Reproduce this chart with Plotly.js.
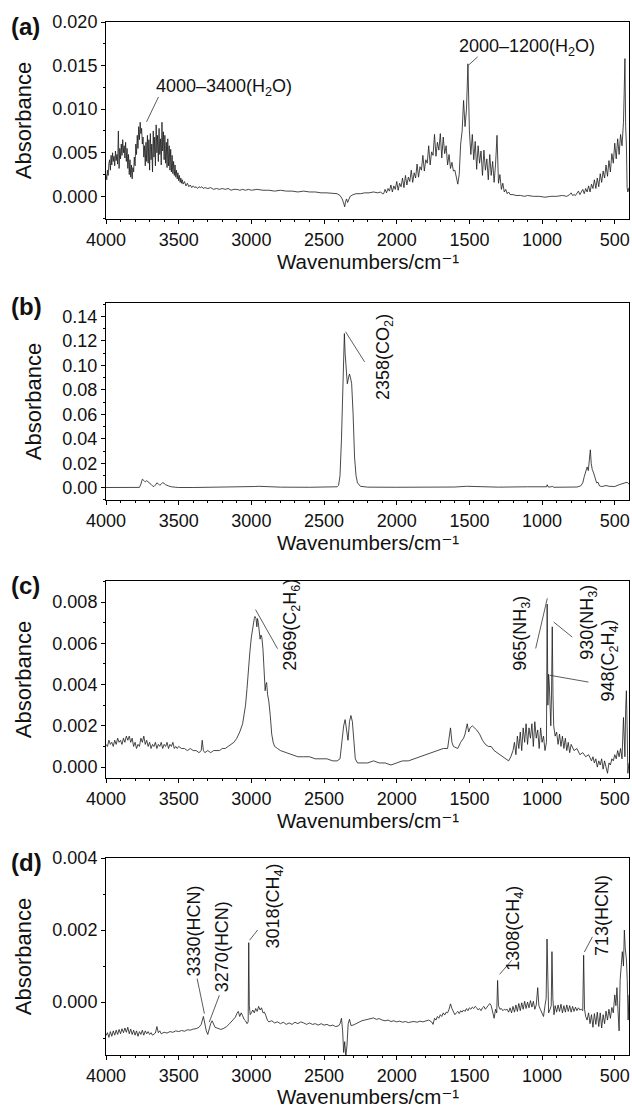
<!DOCTYPE html>
<html><head><meta charset="utf-8">
<script src="https://cdn.plot.ly/plotly-3.0.1.min.js"></script>
<style>html,body{margin:0;padding:0;background:#fff}#chart{width:632px;height:1108px}</style>
</head><body><div id="chart"></div>
<script>
const xTicks = [4000, 3500, 3000, 2500, 2000, 1500, 1000, 500];
const panelLetters = ['(a)', '(b)', '(c)', '(d)'];
const xTitle = 'Wavenumbers/cm⁻¹';
const yTitle = 'Absorbance';

const specA = [
[4000,0.0025],[3995,0.0019],[3990,0.0030],[3985,0.0024],[3980,0.0038],[3975,0.0042],[3970,0.0030],[3965,0.0047],[3960,0.0036],[3955,0.0050],[3950,0.0040],[3945,0.0046],[3940,0.0035],[3935,0.0052],[3930,0.0041],[3925,0.0048],[3920,0.0037],[3915,0.0075],[3910,0.0032],[3905,0.0055],[3900,0.0043],[3895,0.0060],[3890,0.0047],[3885,0.0065],[3880,0.0050],[3875,0.0058],[3870,0.0044],[3865,0.0062],[3860,0.0040],[3855,0.0055],[3850,0.0032],[3845,0.0048],[3840,0.0025],[3835,0.0042],[3830,0.0022],[3825,0.0036],[3820,0.0020],[3815,0.0033],[3810,0.0028],[3805,0.0045],[3800,0.0035],[3795,0.0060],[3790,0.0048],[3785,0.0070],[3780,0.0055],[3775,0.0080],[3770,0.0065],[3765,0.0085],[3760,0.0072],[3755,0.0078],[3750,0.0060],[3745,0.0068],[3740,0.0045],[3735,0.0058],[3730,0.0035],[3725,0.0062],[3720,0.0040],[3715,0.0070],[3710,0.0038],[3705,0.0065],[3700,0.0030],[3695,0.0072],[3690,0.0042],[3685,0.0060],[3680,0.0028],[3675,0.0075],[3670,0.0045],[3665,0.0068],[3660,0.0035],[3655,0.0082],[3650,0.0050],[3645,0.0070],[3640,0.0040],[3635,0.0078],[3630,0.0048],[3625,0.0066],[3620,0.0036],[3615,0.0085],[3610,0.0052],[3605,0.0074],[3600,0.0042],[3595,0.0070],[3590,0.0038],[3585,0.0062],[3580,0.0033],[3575,0.0066],[3570,0.0035],[3565,0.0058],[3560,0.0030],[3555,0.0054],[3550,0.0028],[3545,0.0047],[3540,0.0026],[3535,0.0040],[3530,0.0024],[3525,0.0036],[3520,0.0022],[3515,0.0030],[3510,0.0020],[3505,0.0027],[3500,0.0018],[3495,0.0024],[3490,0.0016],[3485,0.0021],[3480,0.0015],[3475,0.0019],[3470,0.0014],[3460,0.0017],[3450,0.0012],[3440,0.0015],[3430,0.0011],[3420,0.0013],[3410,0.0010],[3400,0.0012],[3390,0.0010],[3380,0.0011],[3370,0.0009],[3360,0.0011],[3350,0.0010],[3340,0.0011],[3330,0.0009],[3320,0.0010],[3300,0.0009],[3280,0.0010],[3260,0.0008],[3240,0.0009],[3220,0.0008],[3200,0.0009],[3180,0.0008],[3160,0.0009],[3140,0.0007],[3120,0.0008],[3100,0.0008],[3080,0.0007],[3060,0.0008],[3040,0.0007],[3020,0.0008],[3000,0.0007],[2960,0.0008],[2920,0.0007],[2880,0.0007],[2840,0.0006],[2800,0.0007],[2760,0.0006],[2720,0.0006],[2680,0.0005],[2640,0.0006],[2600,0.0005],[2560,0.0005],[2520,0.0004],[2480,0.0004],[2440,0.0003],[2410,0.0003],[2390,0.0001],[2375,-0.0003],[2365,-0.0008],[2358,-0.0012],[2352,-0.0006],[2345,-0.0003],[2338,-0.0007],[2330,-0.0003],[2320,0.0000],[2300,0.0002],[2280,0.0003],[2250,0.0003],[2220,0.0004],[2190,0.0004],[2160,0.0005],[2130,0.0004],[2110,0.0005],[2100,0.0003],
[2090,0.0003],[2080,0.0008],[2070,0.0004],[2060,0.0009],[2050,0.0006],[2040,0.0013],[2030,0.0005],[2020,0.0012],[2010,0.0008],[2000,0.0017],[1990,0.0007],[1980,0.0015],[1970,0.0011],[1960,0.0021],[1950,0.0010],[1940,0.0024],[1930,0.0013],[1920,0.0022],[1910,0.0017],[1900,0.0030],[1890,0.0016],[1880,0.0027],[1870,0.0021],[1860,0.0037],[1850,0.0022],[1840,0.0034],[1830,0.0030],[1820,0.0047],[1810,0.0029],[1800,0.0042],[1790,0.0038],[1780,0.0058],[1770,0.0036],[1760,0.0051],[1750,0.0047],[1740,0.0071],[1730,0.0046],[1720,0.0062],[1710,0.0053],[1700,0.0072],[1690,0.0044],[1680,0.0068],[1670,0.0049],[1660,0.0058],[1650,0.0036],[1640,0.0048],[1630,0.0032],[1620,0.0039],[1610,0.0029],[1600,0.0030],[1590,0.0021],[1580,0.0014],[1570,0.0025],[1560,0.0060],[1550,0.0075],[1540,0.0110],[1530,0.0080],[1520,0.0100],[1510,0.0152],[1505,0.0090],[1500,0.0075],[1490,0.0048],[1480,0.0071],[1470,0.0042],[1460,0.0063],[1450,0.0031],[1440,0.0058],[1430,0.0038],[1420,0.0052],[1410,0.0024],[1400,0.0053],[1390,0.0030],[1380,0.0043],[1370,0.0019],[1360,0.0048],[1350,0.0024],[1340,0.0040],[1330,0.0016],[1320,0.0037],[1310,0.0070],[1300,0.0015],[1290,0.0025],[1280,0.0008],[1270,0.0015],[1260,0.0005],[1250,0.0008],[1240,0.0003],[1230,0.0005],[1220,0.0002],[1200,0.0002],[1180,0.0001],[1150,0.0001],[1120,0.0000],[1100,0.0001],[1060,0.0000],[1020,0.0000],[980,-0.0001],[940,0.0000],[900,0.0000],[860,0.0001],[830,0.0000],[810,0.0002],[800,0.0004],[790,0.0001],[780,0.0002],[770,0.0001],[760,0.0004],[750,0.0006],[740,0.0002],[730,0.0005],[720,0.0008],[710,0.0003],[700,0.0009],[690,0.0005],[680,0.0012],[670,0.0005],[660,0.0014],[650,0.0009],[640,0.0019],[630,0.0009],[620,0.0021],[610,0.0011],[600,0.0026],[590,0.0016],[580,0.0029],[570,0.0021],[560,0.0036],[550,0.0023],[540,0.0041],[530,0.0028],[520,0.0049],[510,0.0038],[500,0.0061],[490,0.0043],[480,0.0066],[470,0.0048],[460,0.0071],[450,0.0058],[440,0.0085],[435,0.0120],[430,0.0158],[425,0.0080],[420,0.0060],[415,0.0010],[410,0.0005],[402,0.0010]
];

const specB = [
[4000,0.0002],[3900,0.0002],[3800,0.0002],[3770,0.0003],[3760,0.0030],[3750,0.0070],[3740,0.0060],[3730,0.0048],[3720,0.0058],[3710,0.0050],[3700,0.0035],[3690,0.0028],[3680,0.0015],[3670,0.0010],[3660,0.0022],[3650,0.0040],[3640,0.0032],[3630,0.0020],[3620,0.0030],[3610,0.0042],[3600,0.0035],[3590,0.0025],[3570,0.0015],[3550,0.0008],[3520,0.0004],[3500,0.0002],[3400,0.0002],[3200,0.0003],[3050,0.0006],[2980,0.0010],[2950,0.0012],[2900,0.0009],[2800,0.0005],[2600,0.0004],[2450,0.0004],[2410,0.0008],[2400,0.0020],[2390,0.0100],[2380,0.0400],[2370,0.0900],[2360,0.1260],[2355,0.1100],[2350,0.1000],[2345,0.0980],[2340,0.0850],[2335,0.0880],[2325,0.0930],[2318,0.0900],[2310,0.0850],[2300,0.0600],[2290,0.0250],[2280,0.0100],[2270,0.0040],[2250,0.0012],[2200,0.0005],[2000,0.0004],[1700,0.0005],[1600,0.0006],[1520,0.0012],[1450,0.0008],[1300,0.0005],[1100,0.0008],[1000,0.0006],[970,0.0008],[965,0.0025],[958,0.0006],[935,0.0008],[930,0.0015],[922,0.0004],[850,0.0004],[760,0.0006],[735,0.0015],[720,0.0040],[710,0.0090],[700,0.0140],[690,0.0170],[682,0.0140],[676,0.0200],[668,0.0310],[662,0.0200],[655,0.0150],[645,0.0120],[635,0.0070],[625,0.0040],[615,0.0045],[605,0.0015],[590,0.0010],[560,0.0018],[540,0.0012],[500,0.0010],[470,0.0025],[450,0.0030],[430,0.0040],[415,0.0045],[402,0.0030]
];

const specC = [
[4000,0.0011],[3990,0.0010],[3980,0.0013],[3970,0.0011],[3960,0.0012],[3950,0.0010],[3940,0.0013],[3930,0.0011],[3920,0.0014],[3910,0.0012],[3900,0.0013],[3890,0.0011],[3880,0.0014],[3870,0.0012],[3860,0.0015],[3850,0.0013],[3840,0.0015],[3830,0.0012],[3820,0.0014],[3810,0.0010],[3800,0.0012],[3790,0.0009],[3780,0.0011],[3770,0.0010],[3760,0.0014],[3750,0.0012],[3740,0.0015],[3730,0.0011],[3720,0.0013],[3710,0.0010],[3700,0.0012],[3690,0.0009],[3680,0.0011],[3670,0.0010],[3660,0.0012],[3650,0.0009],[3640,0.0011],[3630,0.0010],[3620,0.0012],[3610,0.0009],[3600,0.0011],[3590,0.0010],[3580,0.0012],[3570,0.0009],[3560,0.0011],[3550,0.0010],[3540,0.0012],[3530,0.0009],[3520,0.0010],[3510,0.0009],[3500,0.0010],[3480,0.0009],[3460,0.0009],[3440,0.0008],[3420,0.0009],[3400,0.0008],[3380,0.0008],[3360,0.0007],[3345,0.0008],[3338,0.0013],[3330,0.0008],[3320,0.0007],[3300,0.0008],[3280,0.0007],[3260,0.0008],[3240,0.0008],[3220,0.0008],[3200,0.0009],[3180,0.0009],[3160,0.0010],[3140,0.0011],[3120,0.0012],[3100,0.0014],[3080,0.0017],[3060,0.0021],[3040,0.0030],[3030,0.0038],[3020,0.0050],[3015,0.0052],[3010,0.0056],[3000,0.0063],[2990,0.0069],[2980,0.0072],[2975,0.0073],[2968,0.0072],[2962,0.0068],[2958,0.0072],[2952,0.0070],[2946,0.0064],[2940,0.0062],[2934,0.0064],[2928,0.0063],[2920,0.0057],[2912,0.0048],[2905,0.0037],[2900,0.0040],[2895,0.0041],[2888,0.0035],[2880,0.0032],[2870,0.0025],[2860,0.0016],[2850,0.0012],[2840,0.0010],[2820,0.0009],[2800,0.0008],[2760,0.0007],[2720,0.0006],[2680,0.0005],[2640,0.0005],[2600,0.0005],[2560,0.0004],[2520,0.0004],[2480,0.0004],[2440,0.0003],[2410,0.0003],[2390,0.0004],[2380,0.0010],[2375,0.0016],[2365,0.0020],[2355,0.0023],[2345,0.0018],[2335,0.0013],[2325,0.0022],[2315,0.0025],[2305,0.0022],[2295,0.0012],[2285,0.0004],[2270,0.0002],[2240,0.0002],[2200,0.0002],[2160,0.0003],[2120,0.0002],[2080,0.0002],[2040,0.0001],[2000,0.0002],[1960,0.0003],[1920,0.0003],[1880,0.0004],[1840,0.0005],[1800,0.0006],[1760,0.0007],[1720,0.0008],[1680,0.0009],[1650,0.0009],[1630,0.0019],[1620,0.0012],[1610,0.0010],[1580,0.0009],[1560,0.0012],[1540,0.0014],[1530,0.0016],[1515,0.0021],[1505,0.0017],[1495,0.0019],[1480,0.0020],[1465,0.0019],[1450,0.0018],[1430,0.0016],[1410,0.0013],[1390,0.0011],[1370,0.0010],[1350,0.0010],[1330,0.0008],[1310,0.0007],[1290,0.0006],[1270,0.0005],[1250,0.0004],[1230,0.0003],[1215,0.0005],[1200,0.0008],[1190,0.0012],[1180,0.0006],[1170,0.0015],[1160,0.0009],[1150,0.0017],[1140,0.0008],[1130,0.0019],[1120,0.0012],[1110,0.0021],[1100,0.0011],[1090,0.0019],[1080,0.0014],[1070,0.0021],[1060,0.0010],[1050,0.0022],[1040,0.0014],[1030,0.0018],[1020,0.0009],[1010,0.0019],[1000,0.0012],[990,0.0015],[980,0.0008],[970,0.0012],[965,0.0079],[960,0.0030],[955,0.0045],[950,0.0040],[945,0.0025],[940,0.0020],[935,0.0035],[930,0.0068],[925,0.0035],[920,0.0020],[910,0.0015],[900,0.0017],[890,0.0011],[880,0.0016],[870,0.0010],[860,0.0015],[850,0.0009],[840,0.0014],[830,0.0008],[820,0.0012],[810,0.0007],[800,0.0011],[780,0.0008],[760,0.0009],[740,0.0006],[720,0.0007],[700,0.0005],[680,0.0006],[660,0.0003],[650,0.0005],[640,0.0002],[630,0.0004],[620,0.0000],[610,0.0003],[600,0.0001],[590,0.0004],[580,-0.0001],[570,0.0003],[560,0.0000],[550,-0.0003],[540,0.0002],[530,0.0001],[520,0.0004],[510,0.0003],[500,0.0006],[490,0.0004],[480,0.0008],[470,0.0005],[460,0.0009],[450,0.0004],[440,0.0024],[430,0.0005],[425,0.0028],[420,0.0037],[415,0.0020],[410,-0.0003],[402,0.0002]
];

const specD = [
[4000,-0.00093],[3990,-0.00085],[3980,-0.00098],[3970,-0.00082],[3960,-0.00095],[3950,-0.00080],[3940,-0.00092],[3930,-0.00078],[3920,-0.00090],[3910,-0.00076],[3900,-0.00088],[3890,-0.00074],[3880,-0.00085],[3870,-0.00072],[3860,-0.00084],[3850,-0.00070],[3840,-0.00088],[3830,-0.00075],[3820,-0.00090],[3810,-0.00078],[3800,-0.00092],[3790,-0.00080],[3780,-0.00095],[3770,-0.00082],[3760,-0.00090],[3750,-0.00078],[3740,-0.00092],[3730,-0.00080],[3720,-0.00088],[3710,-0.00082],[3700,-0.00090],[3690,-0.00085],[3680,-0.00092],[3670,-0.00088],[3660,-0.00086],[3650,-0.00068],[3640,-0.00085],[3630,-0.00080],[3620,-0.00088],[3600,-0.00084],[3580,-0.00086],[3560,-0.00082],[3540,-0.00084],[3520,-0.00080],[3500,-0.00082],[3480,-0.00079],[3460,-0.00081],[3440,-0.00077],[3420,-0.00078],[3400,-0.00075],[3380,-0.00074],[3360,-0.00070],[3345,-0.00062],[3330,-0.00040],[3320,-0.00065],[3310,-0.00080],[3300,-0.00090],[3290,-0.00070],[3280,-0.00060],[3270,-0.00052],[3260,-0.00062],[3250,-0.00070],[3230,-0.00073],[3210,-0.00076],[3190,-0.00073],[3170,-0.00068],[3150,-0.00060],[3130,-0.00052],[3110,-0.00042],[3100,-0.00032],[3090,-0.00026],[3080,-0.00040],[3070,-0.00030],[3060,-0.00038],[3050,-0.00048],[3040,-0.00052],[3030,-0.00060],[3022,-0.00055],[3018,0.00165],[3014,-0.00010],[3008,-0.00035],[3000,-0.00030],[2990,-0.00022],[2980,-0.00030],[2970,-0.00018],[2960,-0.00026],[2950,-0.00012],[2940,-0.00022],[2930,-0.00016],[2920,-0.00030],[2910,-0.00028],[2900,-0.00038],[2890,-0.00050],[2880,-0.00055],[2860,-0.00052],[2840,-0.00058],[2820,-0.00055],[2800,-0.00060],[2780,-0.00056],[2760,-0.00062],[2740,-0.00058],[2720,-0.00062],[2700,-0.00056],[2680,-0.00060],[2660,-0.00055],[2640,-0.00058],[2620,-0.00062],[2600,-0.00058],[2580,-0.00062],[2560,-0.00060],[2540,-0.00064],[2520,-0.00060],[2500,-0.00064],[2480,-0.00062],[2460,-0.00066],[2440,-0.00064],[2420,-0.00068],[2400,-0.00066],[2390,-0.00060],[2380,-0.00045],[2372,-0.00080],[2365,-0.00140],[2358,-0.00110],[2350,-0.00150],[2342,-0.00120],[2334,-0.00060],[2325,-0.00048],[2315,-0.00065],[2300,-0.00064],[2280,-0.00060],[2260,-0.00055],[2240,-0.00052],[2220,-0.00050],[2200,-0.00048],[2180,-0.00046],[2160,-0.00044],[2140,-0.00048],[2120,-0.00046],[2100,-0.00050],[2080,-0.00052],[2060,-0.00050],[2040,-0.00054],[2020,-0.00052],[2000,-0.00055],[1980,-0.00053],[1960,-0.00056],[1940,-0.00054],[1920,-0.00057],[1900,-0.00055],[1880,-0.00054],[1860,-0.00056],[1840,-0.00053],[1820,-0.00055],[1800,-0.00052],[1780,-0.00050],[1760,-0.00055],[1750,-0.00062],[1740,-0.00045],[1730,-0.00050],[1720,-0.00040],[1710,-0.00045],[1700,-0.00035],[1690,-0.00040],[1680,-0.00030],[1670,-0.00036],[1660,-0.00028],[1650,-0.00030],[1640,-0.00020],[1630,-0.00005],[1620,-0.00018],[1610,-0.00028],[1600,-0.00035],[1590,-0.00030],[1580,-0.00026],[1570,-0.00032],[1560,-0.00024],[1550,-0.00028],[1540,-0.00022],[1530,-0.00026],[1520,-0.00018],[1510,-0.00024],[1500,-0.00016],[1490,-0.00020],[1480,-0.00014],[1470,-0.00018],[1460,-0.00012],[1450,-0.00016],[1440,-0.00022],[1430,-0.00018],[1420,-0.00024],[1410,-0.00016],[1400,-0.00012],[1390,-0.00020],[1380,-0.00015],[1370,-0.00008],[1360,-0.00004],[1350,-0.00010],[1340,-0.00030],[1330,-0.00045],[1320,-0.00020],[1312,-0.00030],[1306,0.00060],[1300,-0.00010],[1290,-0.00020],[1280,-0.00018],[1270,-0.00024],[1260,-0.00020],[1250,-0.00022],[1240,-0.00020],[1230,-0.00028],[1220,-0.00016],[1210,-0.00030],[1200,-0.00012],[1190,-0.00028],[1180,-0.00008],[1170,-0.00026],[1160,-0.00004],[1150,-0.00024],[1140,-0.00002],[1130,-0.00020],[1120,0.00002],[1110,-0.00018],[1100,0.00000],[1090,-0.00016],[1080,0.00004],[1070,-0.00014],[1060,0.00002],[1050,-0.00020],[1040,-0.00008],[1030,0.00040],[1022,-0.00010],[1012,-0.00020],[1000,-0.00030],[990,-0.00040],[980,-0.00010],[972,0.00010],[966,0.00175],[961,0.00020],[955,-0.00030],[945,-0.00020],[937,-0.00010],[932,0.00140],[926,0.00010],[918,-0.00035],[910,-0.00010],[900,-0.00028],[890,-0.00008],[880,-0.00026],[870,-0.00006],[860,-0.00030],[850,-0.00010],[840,-0.00028],[830,-0.00008],[820,-0.00026],[810,-0.00010],[800,-0.00028],[790,-0.00012],[780,-0.00026],[770,-0.00014],[760,-0.00024],[750,-0.00016],[740,-0.00022],[730,-0.00020],[720,-0.00024],[714,0.00130],[708,-0.00020],[700,-0.00040],[690,-0.00050],[680,-0.00030],[670,-0.00060],[660,-0.00035],[650,-0.00070],[640,-0.00032],[630,-0.00062],[620,-0.00028],[610,-0.00068],[600,-0.00030],[590,-0.00072],[580,-0.00035],[570,-0.00060],[560,-0.00025],[550,-0.00050],[540,-0.00020],[530,-0.00045],[520,-0.00015],[510,-0.00030],[500,0.00020],[492,-0.00010],[485,0.00040],[478,-0.00020],[470,-0.00080],[463,0.00060],[455,0.00120],[448,0.00140],[440,0.00100],[434,0.00200],[428,0.00150],[420,0.00120],[414,0.00060],[408,-0.00050],[402,0.00020]
];

const yRanges = [[-0.0026, 0.0200], [-0.0100, 0.1510], [-0.00053, 0.00902], [-0.00147, 0.0040]];
const yDticks = [0.005, 0.02, 0.002, 0.002];
const yTickFormats = ['.3f', '.2f', '.3f', '.3f'];

const specs = [specA, specB, specC, specD];
const domains = [[0.80235, 0.98014], [0.54874, 0.72653], [0.29783, 0.47563], [0.04783, 0.22563]];
const panelTopPx = [22, 303, 581, 858];
const xTitleCenterPx = [261, 542, 820, 1096];

const FONT = 'Liberation Sans, Arial, Helvetica, DejaVu Sans, sans-serif';
const traces = [];
const layout = {
  width: 632, height: 1108,
  margin: {l: 106, r: 3, t: 0, b: 0},
  paper_bgcolor: '#fff', plot_bgcolor: '#fff',
  showlegend: false,
  font: {family: FONT, color: '#111', size: 18},
  annotations: [], shapes: []
};

specs.forEach((s, i) => {
  const n = i === 0 ? '' : String(i + 1);
  traces.push({
    x: s.map(p => p[0]), y: s.map(p => p[1]),
    xaxis: 'x' + n, yaxis: 'y' + n,
    type: 'scatter', mode: 'lines',
    line: {color: '#1a1a1a', width: 0.8},
    hoverinfo: 'skip'
  });
  layout['xaxis' + n] = {
    domain: [0, 1], anchor: 'y' + n,
    range: [4000, 402],
    tickmode: 'array', tickvals: xTicks, ticktext: xTicks.map(String),
    ticks: 'outside', ticklen: 4, tickwidth: 1, tickcolor: '#000',
    minor: {ticks: 'outside', ticklen: 2, dtick: 100, tick0: 0, tickcolor: '#000'},
    showline: true, mirror: true, linecolor: '#000', linewidth: 1,
    showgrid: false, zeroline: false,
    tickfont: {size: 18, family: FONT},
    automargin: false
  };
  layout['yaxis' + n] = {
    domain: domains[i], anchor: 'x' + n,
    range: yRanges[i],
    tick0: 0, dtick: yDticks[i], tickformat: yTickFormats[i],
    ticks: 'outside', ticklen: 4, tickwidth: 1, tickcolor: '#000',
    minor: {ticks: 'outside', ticklen: 2, dtick: yDticks[i] / 2, tickcolor: '#000'},
    showline: true, mirror: true, linecolor: '#000', linewidth: 1,
    showgrid: false, zeroline: false,
    tickfont: {size: 18, family: FONT},
    title: {text: yTitle, font: {size: 22, family: FONT}, standoff: 14},
    automargin: false
  };
  // x-axis title as a paper annotation below each panel
  layout.annotations.push({
    xref: 'paper', yref: 'paper',
    x: 0.5, y: 1 - xTitleCenterPx[i] / 1108,
    xanchor: 'center', yanchor: 'middle',
    text: xTitle, showarrow: false, borderpad: 0,
    font: {size: 20.5, family: FONT, color: '#111'}
  });
  layout.annotations.push({
    xref: 'paper', yref: 'paper',
    x: -0.185, y: 1 - (panelTopPx[i] + 4) / 1108,
    xanchor: 'left', yanchor: 'middle',
    text: '<b>' + panelLetters[i] + '</b>', showarrow: false,
    font: {size: 24, family: FONT, color: '#111'}
  });
});

// peak labels: [panel, text, x, y, angle]
const labels = [
  [0, '4000–3400(H<sub>2</sub>O)', 3190, 0.0125, 0],
  [0, '2000–1200(H<sub>2</sub>O)', 1105, 0.0171, 0],
  [1, '2358(CO<sub>2</sub>)', 2080, 0.1070, -90],
  [2, '2969(C<sub>2</sub>H<sub>6</sub>)', 2720, 0.00690, -90],
  [2, '965(NH<sub>3</sub>)', 1140, 0.00650, -90],
  [2, '930(NH<sub>3</sub>)', 676, 0.00700, -90],
  [2, '948(C<sub>2</sub>H<sub>4</sub>)', 535, 0.00515, -90],
  [3, '3330(HCN)', 3394, 0.00196, -90],
  [3, '3270(HCN)', 3205, 0.00154, -90],
  [3, '3018(CH<sub>4</sub>)', 2843, 0.00266, -90],
  [3, '1308(CH<sub>4</sub>)', 1190, 0.00205, -90],
  [3, '713(HCN)', 592, 0.00240, -90]
];
// leader lines: [panel, x0, y0, x1, y1]
const leaders = [
  [0, 3639, 0.0114, 3721, 0.00855],
  [0, 1443, 0.0160, 1505, 0.01507],
  [1, 2352, 0.1275, 2221, 0.1029],
  [2, 2971, 0.00763, 2820, 0.00574],
  [2, 1044, 0.00575, 964, 0.00818],
  [2, 920, 0.00703, 792, 0.0063],
  [2, 947, 0.00445, 681, 0.00412],
  [3, 3373, 0.00065, 3323, -0.00032],
  [3, 3220, 0.00019, 3290, -0.00056],
  [3, 3012, 0.00172, 2957, 0.0020],
  [3, 1292, 0.00077, 1209, 0.00116],
  [3, 709, 0.00139, 654, 0.00181]
];
labels.forEach(l => {
  const n = l[0] === 0 ? '' : String(l[0] + 1);
  layout.annotations.push({
    xref: 'x' + n, yref: 'y' + n, x: l[2], y: l[3],
    text: l[1], textangle: l[4], showarrow: false,
    xanchor: 'center', yanchor: 'middle',
    font: {size: 18, family: FONT, color: '#111'}
  });
});
leaders.forEach(s => {
  const n = s[0] === 0 ? '' : String(s[0] + 1);
  layout.shapes.push({
    type: 'line', xref: 'x' + n, yref: 'y' + n,
    x0: s[1], y0: s[2], x1: s[3], y1: s[4],
    line: {color: '#333', width: 0.8}
  });
});

Plotly.newPlot('chart', traces, layout, {staticPlot: true, displayModeBar: false});
</script>
</body></html>
